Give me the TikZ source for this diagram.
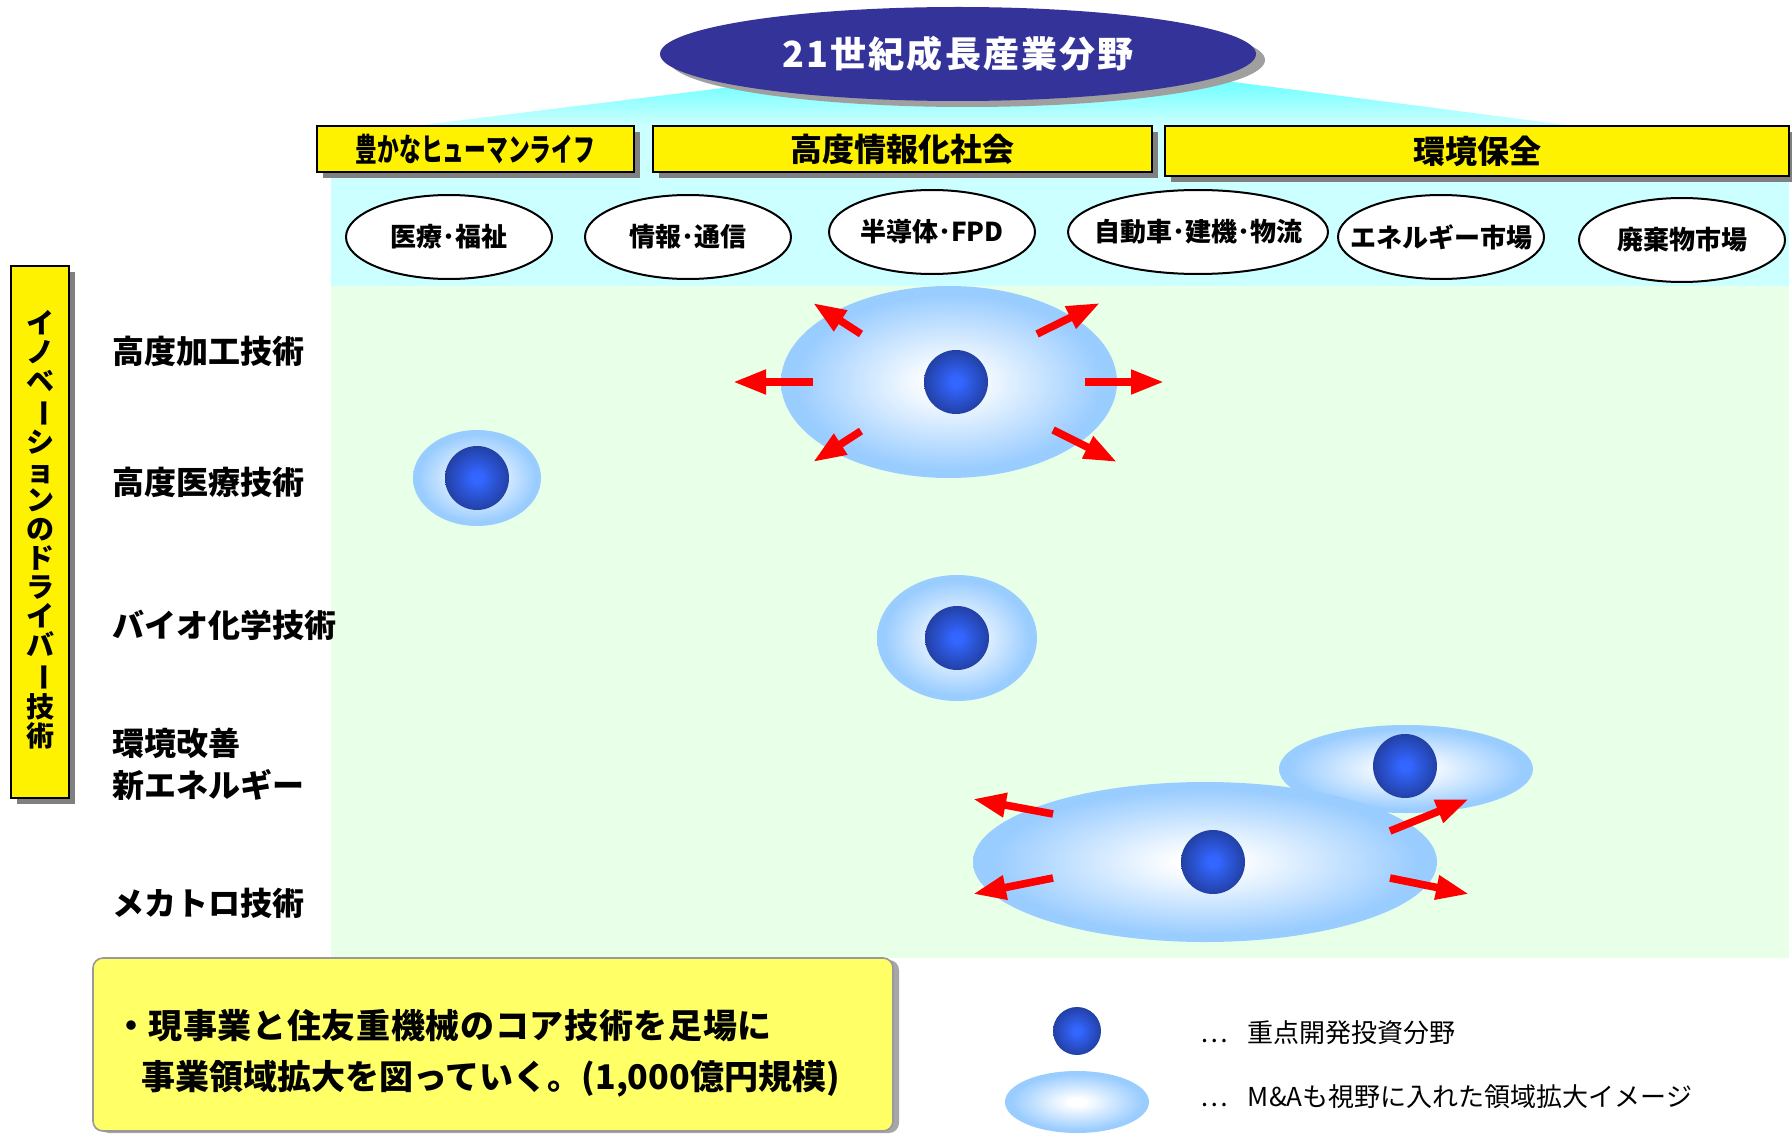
\documentclass[tikz,border=0pt]{standalone}
\usepackage{fontspec}
\setmainfont{Noto Sans CJK JP}
\usetikzlibrary{shapes.geometric, arrows.meta, shadows}
\definecolor{cyanbg}{HTML}{CCFFFF}
\definecolor{traptop}{HTML}{70FFFF}
\definecolor{greenbg}{HTML}{E8FFE8}
\definecolor{titleblue}{HTML}{333399}
\definecolor{blobblue}{HTML}{99CCFF}
\definecolor{dotc}{HTML}{3366FF}
\definecolor{dotedge}{HTML}{1C3283}
\definecolor{notey}{HTML}{FFFF66}
\pgfdeclareradialshading{blobshade}{\pgfpointorigin}{color(0bp)=(white); color(3bp)=(white); color(23bp)=(blobblue); color(50bp)=(blobblue)}
\pgfdeclareradialshading{dotshade}{\pgfpointorigin}{color(0bp)=(dotc); color(4bp)=(dotc); color(33bp)=(dotedge); color(50bp)=(dotedge)}
\newcommand{\vbar}{\rotatebox[origin=c]{-90}{ー}}
\tikzset{
  blob/.style={ellipse, shading=blobshade, inner sep=0pt},
  bdot/.style={circle, shading=dotshade, inner sep=0pt, minimum size=32pt},
  ybox/.style={rectangle, draw=black, line width=1.2pt, fill=yellow, inner sep=0pt,
    font=\bfseries\fontsize{16}{16}\selectfont,
    drop shadow={shadow xshift=3pt, shadow yshift=-3pt, fill=gray, opacity=1}},
  oval/.style={ellipse, draw=black, line width=1pt, fill=white, inner sep=0pt,
    minimum width=103pt, minimum height=42pt},
  ovaltext/.style={inner sep=0pt, font=\bfseries\fontsize{13}{13}\selectfont},
  rowlabel/.style={anchor=west, inner sep=0pt, font=\bfseries\fontsize{16}{21}\selectfont, align=left},
  xarrow/.style={draw=red, line width=3.8pt, -{Triangle[length=16.5pt, width=11.5pt]}},
  legtext/.style={anchor=west, inner sep=0pt, font=\fontsize{13}{13}\selectfont},
  notetext/.style={anchor=west, inner sep=0pt, font=\bfseries\fontsize{17}{17}\selectfont},
}
\begin{document}
\begin{tikzpicture}[x=0.5pt, y=-0.5pt]
\useasboundingbox[fill=white] (0,0) rectangle (1792,1134);
% background regions
\fill[cyanbg] (331,125) rectangle (1789,286);
\fill[greenbg] (331,286) rectangle (1789,958);
\shade[top color=traptop, bottom color=cyanbg] (731,87) -- (1234,82) -- (1566,125) -- (423,125) -- cycle;
% title
\node[ellipse, fill=gray!75, minimum width=298pt, minimum height=47pt] (tshadow) at (967,60) {};
\node[ellipse, fill=titleblue, minimum width=298pt, minimum height=47pt, text=white,
  font=\bfseries\fontsize{18}{18}\selectfont\addfontfeature{LetterSpace=6}] (title) at (958,54) {21世紀成長産業分野};
% category boxes
\node[ybox, minimum width=158.5pt, minimum height=23pt] (b1) at (475.5,149) {\scalebox{0.68}[1]{豊かなヒューマンライフ}};
\node[ybox, minimum width=249.5pt, minimum height=23pt] (b2) at (902.5,149) {高度情報化社会};
\node[ybox, minimum width=312pt, minimum height=25pt] (b3) at (1477,151) {環境保全};
% market ovals
\node[oval] (o1) at (449,237) {};
\node[oval] (o2) at (688,237) {};
\node[oval] (o3) at (932,232) {};
\node[oval, minimum width=130pt] (o4) at (1198,232) {};
\node[oval] (o5) at (1441,237) {};
\node[oval] (o6) at (1682,240) {};
\node[ovaltext] (o1t) at (o1) {医療･福祉};
\node[ovaltext] (o2t) at (o2) {情報･通信};
\node[ovaltext] (o3t) at (o3) {半導体･FPD};
\node[ovaltext] (o4t) at (o4) {自動車･建機･物流};
\node[ovaltext] (o5t) at (o5) {エネルギー市場};
\node[ovaltext] (o6t) at (o6) {廃棄物市場};
% left driver box
\node[rectangle, draw=black, line width=1.2pt, fill=yellow, minimum width=29pt, minimum height=266pt,
  drop shadow={shadow xshift=3pt, shadow yshift=-3pt, fill=gray, opacity=1}] (drv) at (40,532) {};
\node[inner sep=0pt, align=center, font=\bfseries\fontsize{14}{14.5}\selectfont] (drvtext) at (40,530)
  {イ\\ノ\\ベ\\\vbar\\シ\\ョ\\ン\\の\\ド\\ラ\\イ\\バ\\\vbar\\技\\術};
% row labels
\node[rowlabel] (r1) at (112,351) {高度加工技術};
\node[rowlabel] (r2) at (112,482) {高度医療技術};
\node[rowlabel] (r3) at (112,625) {バイオ化学技術};
\node[rowlabel] (r4) at (112,764) {環境改善\\新エネルギー};
\node[rowlabel] (r5) at (112,903) {メカトロ技術};
% blobs and dots
\node[blob, minimum width=168pt, minimum height=96pt] (e1) at (949,382) {};
\node[bdot] (d1) at (956,382) {};
\node[blob, minimum width=64pt, minimum height=48pt] (e2) at (477,478) {};
\node[bdot] (d2) at (477,478) {};
\node[blob, minimum width=80pt, minimum height=63pt] (e3) at (957,638) {};
\node[bdot] (d3) at (957,638) {};
\node[blob, minimum width=127pt, minimum height=44pt] (e4) at (1406,769) {};
\node[bdot] (d4) at (1405,766) {};
\node[blob, minimum width=232pt, minimum height=80pt] (e5) at (1205,862) {};
\node[bdot] (d5) at (1213,862) {};
% expansion arrows (top blob)
\coordinate (a1s) at (813,382);  \coordinate (a1e) at (733,382);
\coordinate (a2s) at (1085,382); \coordinate (a2e) at (1164,382);
\coordinate (a3s) at (861,334);  \coordinate (a3e) at (813,303);
\coordinate (a4s) at (1037,334); \coordinate (a4e) at (1100,303);
\coordinate (a5s) at (861,431);  \coordinate (a5e) at (813,462);
\coordinate (a6s) at (1053,430); \coordinate (a6e) at (1117,462);
\foreach \i in {1,...,6} {\draw[xarrow] (a\i s) -- (a\i e);}
% expansion arrows (mechatronics blob)
\coordinate (m1s) at (1053,814); \coordinate (m1e) at (973,799);
\coordinate (m2s) at (1053,878); \coordinate (m2e) at (973,894);
\coordinate (m3s) at (1390,831); \coordinate (m3e) at (1469,799);
\coordinate (m4s) at (1390,878); \coordinate (m4e) at (1469,894);
\foreach \i in {1,...,4} {\draw[xarrow] (m\i s) -- (m\i e);}
% bottom note
\node[rectangle, rounded corners=5pt, fill=notey, draw=gray!80, line width=0.8pt,
  minimum width=400pt, minimum height=86.5pt,
  drop shadow={shadow xshift=3pt, shadow yshift=-1pt, fill=gray!70, opacity=1}] (note) at (493,1044.5) {};
\node[notetext] (note1) at (114,1026) {・\addfontfeature{LetterSpace=2}現事業と住友重機械のコア技術を足場に};
\node[notetext] (note2) at (141,1079) {事業領域拡大を図っていく。(1,000億円規模)};
% legend
\node[bdot, minimum size=24pt] (ld) at (1077,1031) {};
\node[blob, minimum width=72pt, minimum height=31pt] (lb) at (1077,1102) {};
\node[legtext] (lt1) at (1200,1033) {…\hspace{10pt}重点開発投資分野};
\node[legtext] (lt2) at (1200,1097) {…\hspace{10pt}M\&Aも視野に入れた領域拡大イメージ};
\end{tikzpicture}
\end{document}
